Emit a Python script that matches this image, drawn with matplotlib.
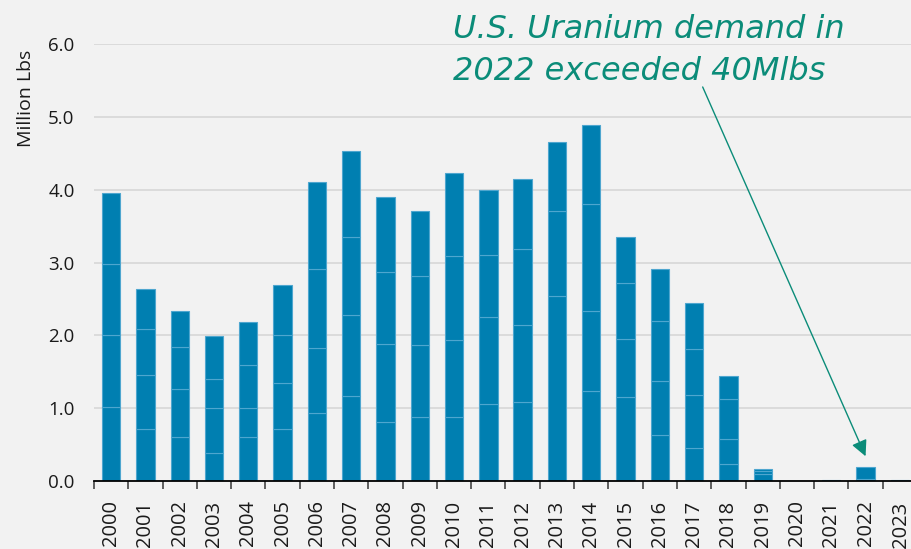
import numpy as np
import matplotlib.pyplot as plt

years = ['2000', '2001', '2002', '2003', '2004', '2005', '2006', '2007',
         '2008', '2009', '2010', '2011', '2012', '2013', '2014', '2015',
         '2016', '2017', '2018', '2019', '2020', '2021', '2022', 'P2023']

# segments stacked inside each bar (bottom to top), million lbs
segments = [
    [1.01, 0.99, 0.98, 0.975],
    [0.71, 0.745, 0.63, 0.55],
    [0.61, 0.65, 0.58, 0.50],
    [0.39, 0.61, 0.40, 0.595],
    [0.60, 0.40, 0.59, 0.59],
    [0.71, 0.635, 0.655, 0.69],
    [0.93, 0.895, 1.08, 1.20],
    [1.165, 1.115, 1.07, 1.185],
    [0.81, 1.07, 0.99, 1.03],
    [0.875, 0.99, 0.95, 0.895],
    [0.875, 1.06, 1.155, 1.14],
    [1.055, 1.195, 0.855, 0.885],
    [1.08, 1.06, 1.045, 0.965],
    [2.54, 1.17, 0.95],
    [1.24, 1.09, 1.47, 1.09],
    [1.15, 0.80, 0.77, 0.625],
    [0.63, 0.74, 0.825, 0.72],
    [0.45, 0.73, 0.63, 0.635],
    [0.23, 0.35, 0.54, 0.32],
    [0.10, 0.035, 0.035],
    [0.005],
    [0.015],
    [0.023, 0.17],
    [0.01],
]

bg = '#f2f2f2'
bar_color = '#007fb1'
edge_color = '#4ea6cf'
teal = '#0b8c79'

fig = plt.figure(figsize=(9.11, 5.49), dpi=100, facecolor=bg)
ax = fig.add_axes([94 / 911, 68 / 549, 823 / 911, 437 / 549])
ax.set_facecolor(bg)

x = np.arange(len(years))
for i, segs in enumerate(segments):
    bottom = 0.0
    for s in segs:
        ax.bar(x[i], s, width=0.535, bottom=bottom, color=bar_color,
               edgecolor=edge_color, linewidth=0.8, zorder=3)
        bottom += s

ax.set_xlim(-0.5, len(years) - 0.5)
ax.set_ylim(0, 6)
ax.set_yticks(np.arange(0, 6.1, 1.0))
ax.set_yticklabels([f'{v:.1f}' for v in np.arange(0, 6.1, 1.0)],
                   fontsize=13.5, family='Open Sans', color='#1a1a1a')
ax.yaxis.grid(True, color='#d9d9d9', linewidth=1.3, zorder=0)
ax.tick_params(axis='y', length=0, pad=14)

ax.set_xticks(x)
ax.set_xticklabels(years, rotation=90, fontsize=14.5, family='Open Sans',
                   color='#1a1a1a')
ax.set_xticks(np.arange(-0.5, len(years), 1.0), minor=True)
ax.tick_params(axis='x', which='major', length=0, pad=14)
ax.tick_params(axis='x', which='minor', length=6, width=1.2, color='#444444')

for side in ['top', 'right', 'left']:
    ax.spines[side].set_visible(False)
ax.spines['bottom'].set_color('black')
ax.spines['bottom'].set_linewidth(1.3)
ax.spines['bottom'].set_zorder(4)

fig.text(26 / 911, 1 - 98 / 549, 'Million Lbs', rotation=90, ha='center',
         va='center', fontsize=14, family='Open Sans', color='#1a1a1a')

ax.annotate('', xy=(22.0, 0.34), xytext=(17.25, 5.41),
            arrowprops=dict(arrowstyle='-|>', color=teal, lw=1.0,
                            mutation_scale=24, shrinkA=0, shrinkB=0),
            annotation_clip=False, zorder=5)

fig.text(453 / 911, 1 - 38 / 549, 'U.S. Uranium demand in', fontsize=23,
         style='italic', family='DejaVu Sans', color=teal, ha='left',
         va='baseline')
fig.text(453 / 911, 1 - 80 / 549, '2022 exceeded 40Mlbs', fontsize=23,
         style='italic', family='DejaVu Sans', color=teal, ha='left',
         va='baseline')

fig.savefig('out.png', dpi=100, facecolor=bg)
